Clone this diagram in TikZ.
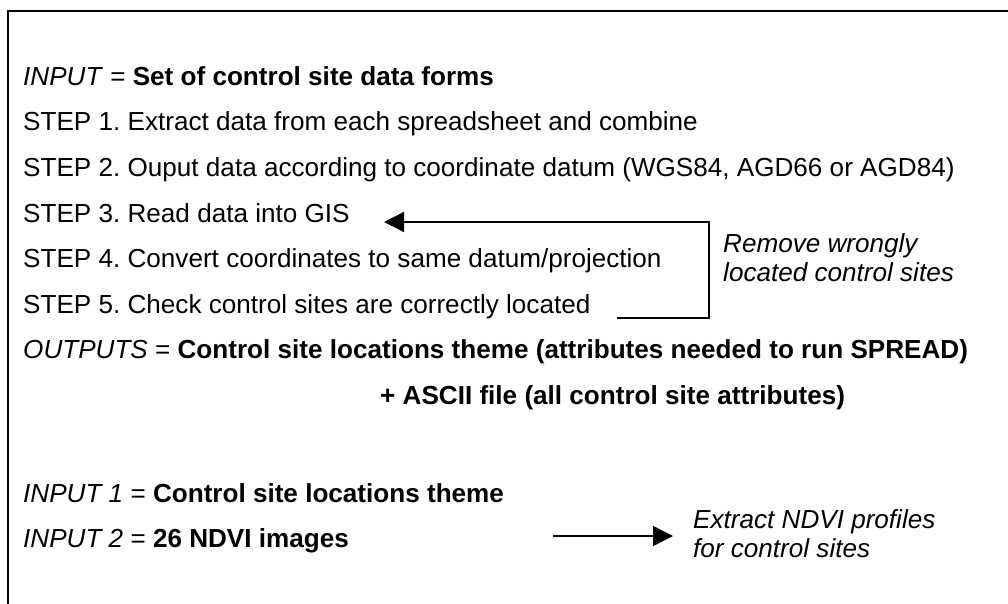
\documentclass[tikz,border=0pt]{standalone}
\usepackage{fontspec}
\setmainfont{Liberation Sans}
\frenchspacing
\usetikzlibrary{arrows.meta}
\begin{document}
\begin{tikzpicture}[x=1pt,y=-1pt,
  txt/.style={anchor=base west,inner sep=0pt,font=\fontsize{26.1}{30}\selectfont},
  lbl/.style={anchor=base west,inner sep=0pt,font=\fontsize{26.1}{30}\selectfont\itshape},
  frame/.style={line width=2.5pt},
  fb/.style={line width=1.3pt,-{Triangle[length=20pt,width=20pt]}}]
\useasboundingbox (0,0) rectangle (1008,604);
\fill[white] (0,0) rectangle (1008,604);
% frame
\draw[frame] (8,604) -- (8,11) -- (1008,11);
% text
\node[txt] (in)  at (23,85.5)  {\textit{INPUT} = \textbf{Set of control site data forms}};
\node[txt] (s1)  at (23,131)   {STEP 1. Extract data from each spreadsheet and combine};
\node[txt] (s2)  at (23,176.5) {STEP 2. Ouput data according to coordinate datum (WGS84, AGD66 or AGD84)};
\node[txt] (s3)  at (23,222)   {STEP 3. Read data into GIS};
\node[txt] (s4)  at (23,267.5) {STEP 4. Convert coordinates to same datum/projection};
\node[txt] (s5)  at (23,313)   {STEP 5. Check control sites are correctly located};
\node[txt] (out) at (23,358.5) {\textit{OUTPUTS} = \textbf{Control site locations theme (attributes needed to run SPREAD)}};
\node[txt] (asc) at (380,404)  {\textbf{+ ASCII file (all control site attributes)}};
\node[txt] (i1)  at (23,502)   {\textit{INPUT 1} = \textbf{Control site locations theme}};
\node[txt] (i2)  at (23,547.5) {\textit{INPUT 2} = \textbf{26 NDVI images}};
\node[lbl] (rem1) at (723,252) {Remove wrongly};
\node[lbl] (rem2) at (723,281) {located control sites};
\node[lbl] (ext1) at (693,528) {Extract NDVI profiles};
\node[lbl] (ext2) at (693,557) {for control sites};
% feedback loop
\coordinate (loopS) at (617,318);
\coordinate (loopR) at (709,318);
\coordinate (tip3) at (384,222);
\draw[fb] (loopS) -- (loopR) |- (tip3);
% ndvi arrow
\coordinate (arrS) at (553,536);
\coordinate (arrE) at (673,536);
\draw[fb] (arrS) -- (arrE);
\end{tikzpicture}
\end{document}
